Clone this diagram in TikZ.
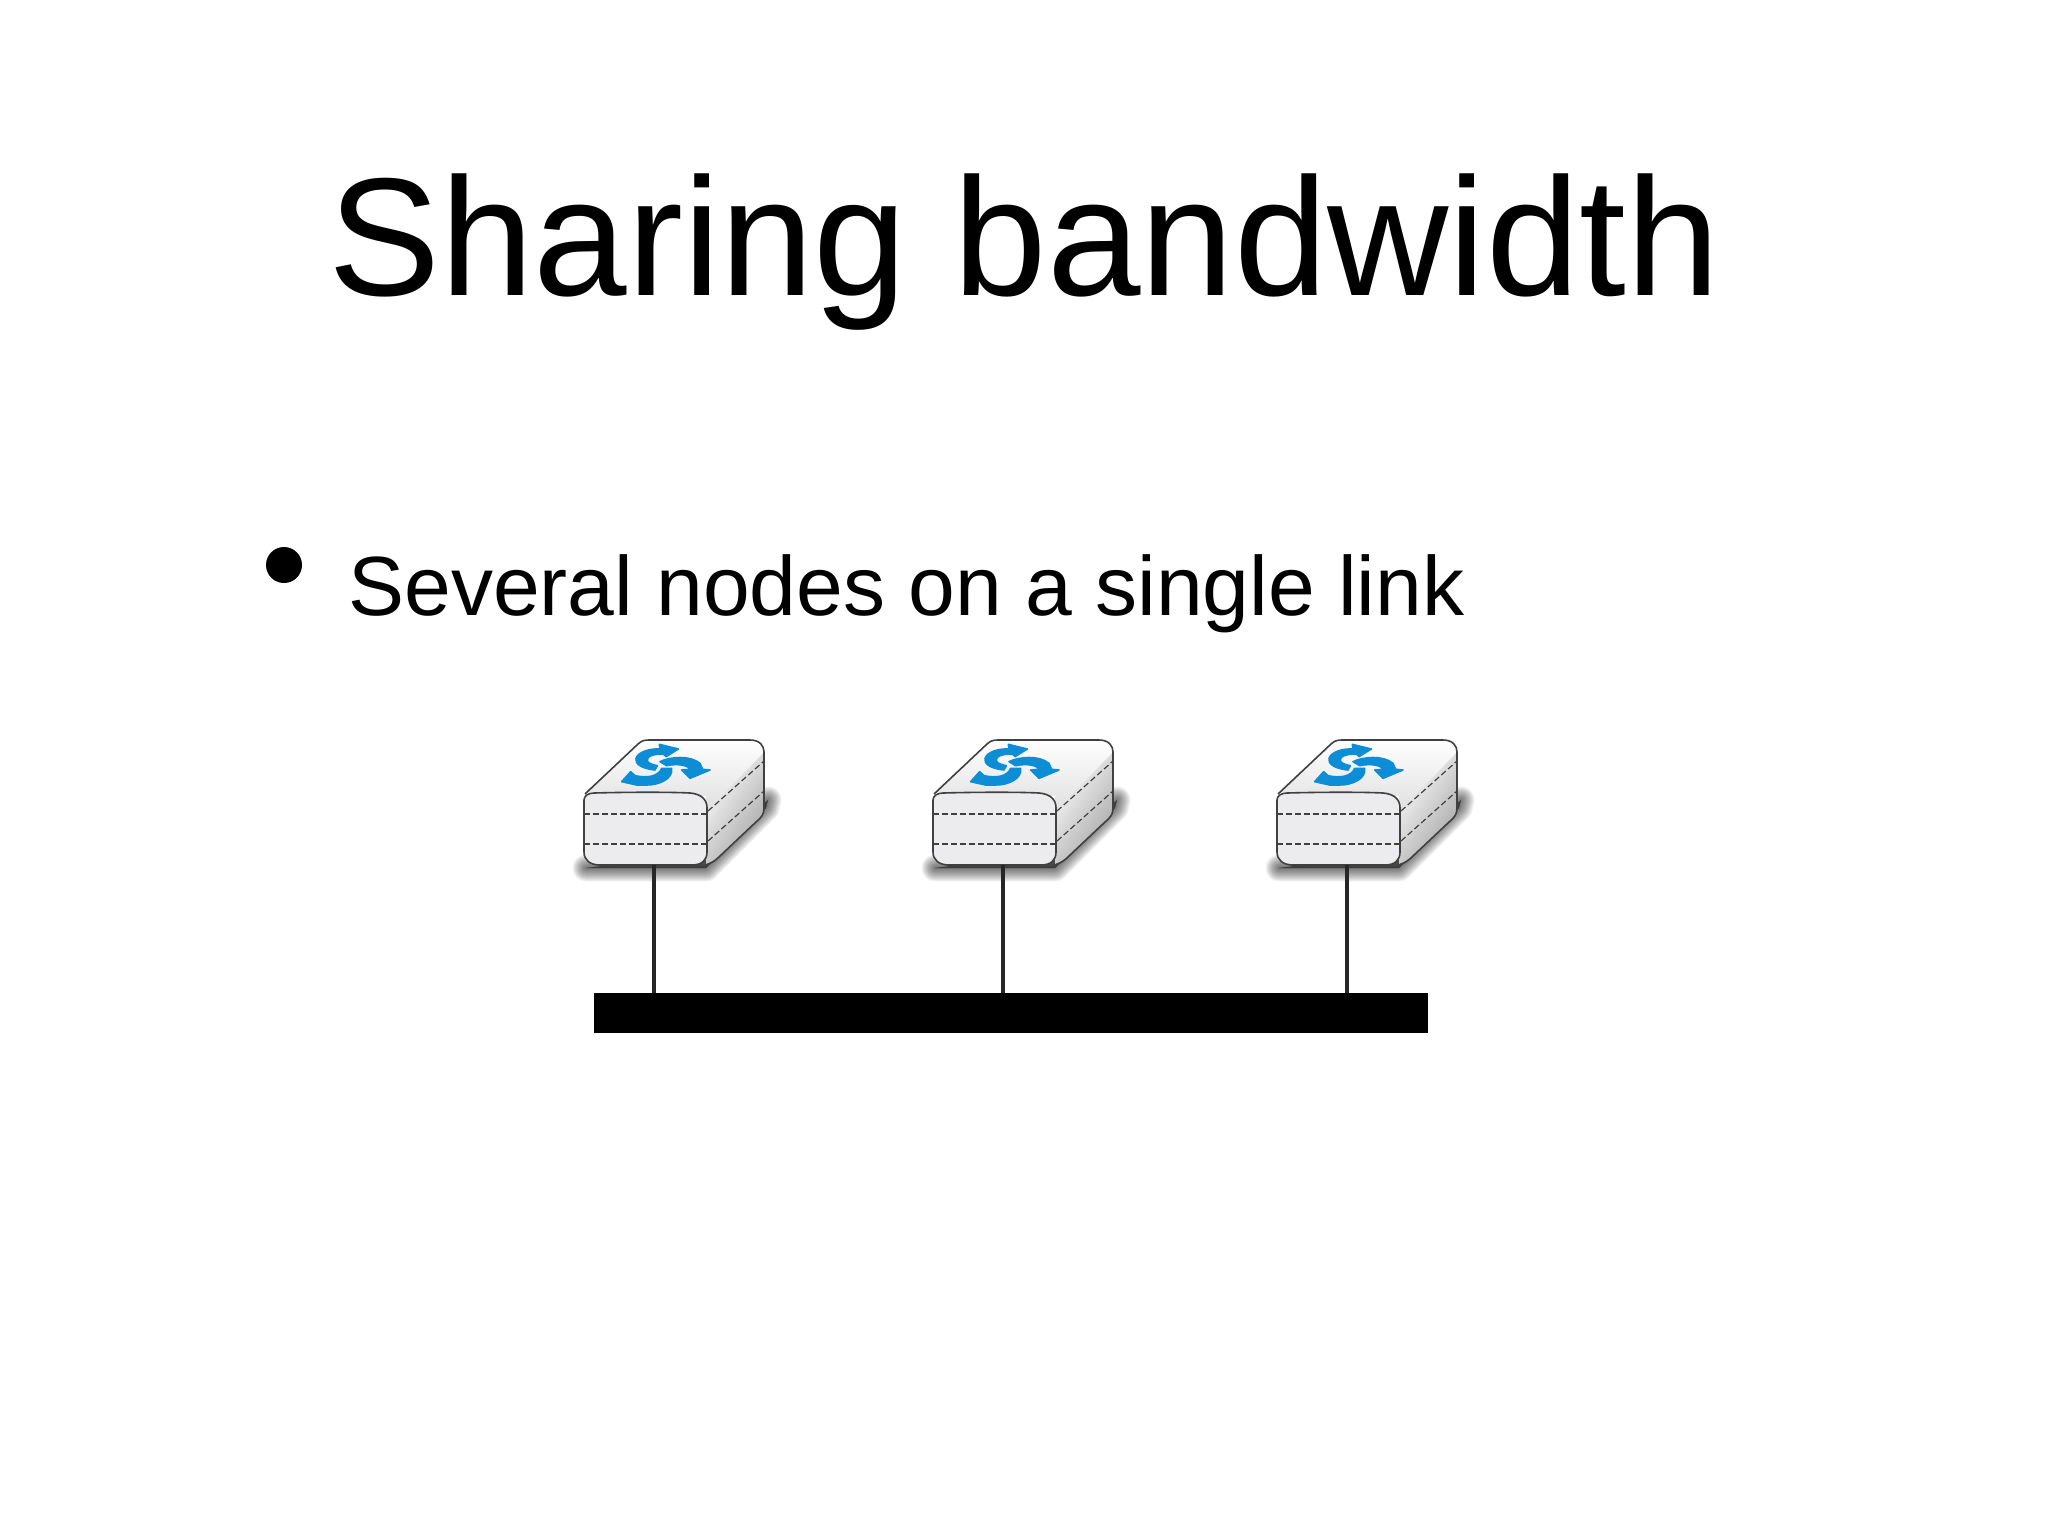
\documentclass[tikz,border=0pt]{standalone}
\usepackage{fontspec}
\setmainfont{Liberation Sans}
\definecolor{logoblue}{HTML}{0C8DD6}
\definecolor{frontgray}{HTML}{ECECEE}
\tikzset{
  router/.pic={
    \foreach \w in {1,3,...,27}{\draw[black,opacity=0.05,line width=\w*0.5pt,line join=round,fill=black] (26,148)--(146,148)--(206,88)--(208,80)--(150,132)--cycle;};
    \path[left color=white,right color=gray!70,shading angle=55] (146,82) -- (146,144) .. controls (160,140) and (170,125) .. (196,102) .. controls (202,97) and (204,94) .. (204,88) -- (204,30) -- cycle;
    \path[top color=white,bottom color=gray!25] (26,72) -- (80,22) .. controls (84,20) and (88,20) .. (90,20) -- (192,20) .. controls (200,20) and (204,26) .. (204,32) -- (146,92) -- (146,76) -- cycle;
    \draw[outl] (25,74) -- (78,24) .. controls (82,20) and (86,20) .. (90,20) -- (190,20) .. controls (200,20) and (204,26) .. (204,32) -- (204,88) .. controls (204,94) and (202,97) .. (196,102) -- (160,136) .. controls (156,140) and (152,143) .. (146,145);
    \draw[outl,fill=frontgray] (34,73) .. controls (70,72) and (110,72) .. (130,73) .. controls (142,74) and (147,80) .. (147,88) -- (147,132) .. controls (147,140) and (142,145) .. (132,145) -- (40,145) .. controls (30,145) and (24,140) .. (24,132) -- (24,80) .. controls (24,76) and (28,73) .. (34,73) -- cycle;
    \foreach \y in {94,124}{\draw[dashes] (24,\y) -- (147,\y);};
    \draw[dashes] (148,91) -- (204,41);
    \draw[dashes] (148,121) -- (204,71);
    \begin{scope}[shift={(50,15)},scale=0.3333,logo/.style={fill=logoblue,draw=logoblue,line width=0.8pt,line join=round}]
      \path[logo] (135,105) .. controls (90,100) and (75,85) .. (78,70) .. controls (85,50) and (120,40) .. (150,42) -- (148,28) -- (205,42) -- (168,65) -- (162,58) .. controls (130,55) and (108,65) .. (112,78) .. controls (115,85) and (130,90) .. (142,92) -- cycle;
      \path[logo] (150,80) .. controls (180,65) and (240,60) .. (270,85) -- (278,103) -- (300,105) -- (240,130) -- (215,105) -- (240,103) .. controls (235,90) and (200,85) .. (170,92) -- cycle;
      \path[logo] (185,100) .. controls (190,130) and (150,150) .. (110,150) -- (80,150) -- (35,140) -- (62,110) -- (75,122) .. controls (110,130) and (145,125) .. (155,100) -- cycle;
    \end{scope}
    \coordinate (-port) at (94,145);
  }
}
\begin{document}
\begin{tikzpicture}[x=0.5pt,y=-0.5pt,dashes/.style={black!75,line width=0.6pt,dashed,dash pattern=on 3pt off 1.5pt},outl/.style={black!75,line width=0.8pt},link/.style={black!85,line width=2pt}]
\useasboundingbox (0,0) rectangle (2048,1536);
\node (title) [anchor=base west,inner sep=0pt] at (328,295) {\fontsize{84}{90}\selectfont Sharing bandwidth};
\node (item) [anchor=base west,inner sep=0pt] at (348,615) {\fontsize{42}{50}\selectfont Several nodes on a single link};
\fill (284,565) circle (18) coordinate (dot);
\node (bus) [fill=black,inner sep=0pt,minimum width=417pt,minimum height=20pt,anchor=north west] at (593.5,993) {};
\foreach \i/\x in {1/560,2/909,3/1253}{
  \pic (r\i) at (\x,720) {router};
  \draw[link] (r\i-port) -- (r\i-port |- bus.north);
};
\end{tikzpicture}
\end{document}
